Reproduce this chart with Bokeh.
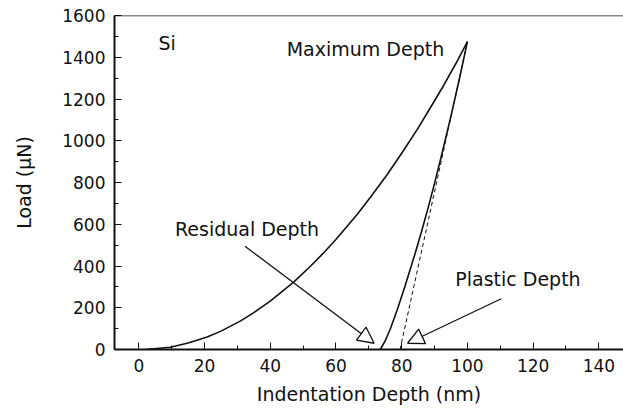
from bokeh.plotting import figure
from bokeh.models import Range1d, Label, Arrow, NormalHead, Span, FixedTicker
from bokeh.embed import file_html
from bokeh.resources import INLINE

# ---- data ----
load_depth = [2.0, 9.6, 15.0, 20.8, 25.0, 31.0, 35.0, 40.1, 47.2, 52.3, 56.0, 59.9,
              66.5, 71.0, 75.6, 80.0, 84.7, 88.5, 92.8, 96.5, 100.0]
load_force = [0, 11, 31, 60, 88, 137, 177, 233, 324, 400, 459, 526,
              648, 740, 838, 940, 1053, 1152, 1266, 1370, 1475]

unload_depth = [73.5, 75.0, 76.5, 78.7, 81.0, 83.8, 86.0, 88.0, 89.8, 92.0, 94.9, 97.5, 100.0]
unload_force = [0, 42, 97, 193, 303, 445, 563, 676, 784, 922, 1112, 1292, 1475]

tangent_depth = [79.5, 100.0]
tangent_force = [0, 1475]

x_ticks = [0, 20, 40, 60, 80, 100, 120, 140]
y_ticks = [0, 200, 400, 600, 800, 1000, 1200, 1400, 1600]

labels = ["Si", "Maximum Depth", "Residual Depth", "Plastic Depth"]
label_x = [6.0, 45.0, 11.0, 96.3]
label_y = [1470, 1440, 578, 340]

arrow_start_x = [32.3, 110.3]
arrow_start_y = [495, 243]
arrow_end_x = [71.6, 81.8]
arrow_end_y = [30, 30]

FONT = "DejaVu Sans"
INK = "#111111"

p = figure(width=623, height=408, output_backend="svg", toolbar_location=None,
           x_range=Range1d(-7.4, 147.5), y_range=Range1d(0, 1600),
           min_border_left=114, min_border_right=0, min_border_top=15,
           min_border_bottom=59)
p.outline_line_color = None
p.grid.visible = False
p.background_fill_color = "white"
p.border_fill_color = "white"

p.line(load_depth, load_force, line_color=INK, line_width=1.6, line_join="round")
p.line(unload_depth, unload_force, line_color=INK, line_width=1.6, line_join="round")
p.line(tangent_depth, tangent_force, line_color=INK, line_width=1.0, line_dash="4 3")

# top frame line
p.add_layout(Span(location=1600, dimension="width", line_color=INK, line_width=1.5))

for ax, ticks in ((p.xaxis[0], x_ticks), (p.yaxis[0], y_ticks)):
    step = ticks[1] - ticks[0]
    ax.ticker = FixedTicker(ticks=ticks, minor_ticks=[t + step / 2 for t in ticks])
    ax.axis_line_width = 2
    ax.axis_line_color = INK
    ax.major_tick_in = 7
    ax.major_tick_out = 0
    ax.minor_tick_in = 4
    ax.minor_tick_out = 0
    ax.major_tick_line_color = INK
    ax.minor_tick_line_color = INK
    ax.major_label_text_font = FONT
    ax.major_label_text_font_size = "17px"
    ax.major_label_text_color = INK
    ax.major_label_standoff = 9
    ax.axis_label_text_font = FONT
    ax.axis_label_text_font_size = "19px"
    ax.axis_label_text_font_style = "normal"
    ax.axis_label_text_color = INK

p.xaxis.axis_label = "Indentation Depth (nm)"
p.yaxis.axis_label = "Load (μN)"
p.xaxis.axis_label_standoff = 8
p.yaxis.axis_label_standoff = 24

for t, x, y in zip(labels, label_x, label_y):
    p.add_layout(Label(x=x, y=y, text=t, text_font=FONT, text_font_size="19px",
                       text_color=INK, text_baseline="middle", text_align="left"))

for xs, ys, xe, ye in zip(arrow_start_x, arrow_start_y, arrow_end_x, arrow_end_y):
    p.add_layout(Arrow(x_start=xs, y_start=ys, x_end=xe, y_end=ye,
                       line_color=INK, line_width=1.3,
                       end=NormalHead(size=16, fill_color="white",
                                      line_color=INK, line_width=1.3)))

open("out.html", "w").write(file_html(p, INLINE))
